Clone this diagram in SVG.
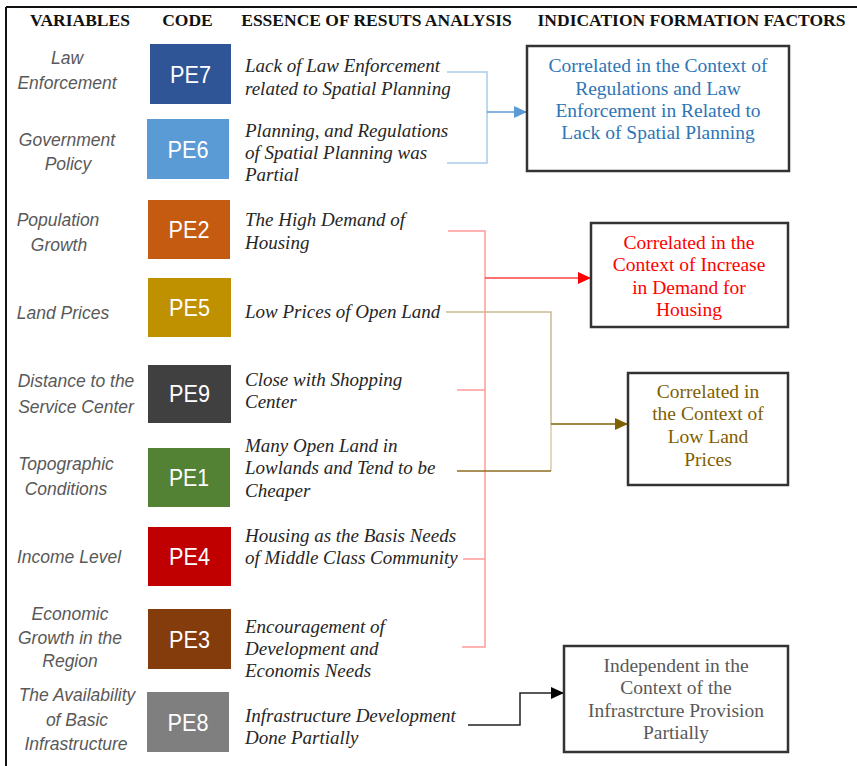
<svg xmlns="http://www.w3.org/2000/svg" width="857" height="766" viewBox="0 0 857 766">
<style>
.hdr{font-family:"Liberation Serif",serif;font-weight:bold;font-size:17.5px;fill:#111111;text-anchor:middle}
.var{font-family:"Liberation Sans",Arial,sans-serif;font-style:italic;font-size:17.5px;fill:#595959;text-anchor:middle}
.code{font-family:"Liberation Sans",Arial,sans-serif;font-size:24px;fill:#ffffff;text-anchor:middle}
.desc{font-family:"Liberation Serif",serif;font-style:italic;font-size:19px;fill:#262626}
.box{fill:#ffffff;stroke:#333333;stroke-width:2.5}
.res{font-family:"Liberation Serif",serif;font-size:19.5px;text-anchor:middle}
.ln{fill:none;stroke-width:1.5}
</style>
<defs>
<marker id="aBlue" markerUnits="userSpaceOnUse" markerWidth="14" markerHeight="12" refX="13" refY="6" orient="auto"><path d="M0,0 L13,6 L0,12 Z" fill="#5B9BD5"/></marker>
<marker id="aRed" markerUnits="userSpaceOnUse" markerWidth="14" markerHeight="12" refX="13" refY="6" orient="auto"><path d="M0,0 L13,6 L0,12 Z" fill="#FF0000"/></marker>
<marker id="aGold" markerUnits="userSpaceOnUse" markerWidth="14" markerHeight="12" refX="13" refY="6" orient="auto"><path d="M0,0 L13,6 L0,12 Z" fill="#7F6000"/></marker>
<marker id="aBlack" markerUnits="userSpaceOnUse" markerWidth="14" markerHeight="12" refX="13" refY="6" orient="auto"><path d="M0,0 L13,6 L0,12 Z" fill="#000000"/></marker>
</defs>
<rect x="0" y="0" width="857" height="766" fill="#ffffff"/>
<g id="frame" fill="none" stroke="#111111" stroke-width="2">
<line x1="6" y1="7" x2="857" y2="7"/>
<line x1="6" y1="7" x2="6" y2="766"/>
</g>
<g id="headers">
<text class="hdr" x="80" y="26">VARIABLES</text>
<text class="hdr" x="187.5" y="26">CODE</text>
<text class="hdr" x="376.5" y="26">ESSENCE OF RESUTS ANALYSIS</text>
<text class="hdr" x="691.5" y="26">INDICATION FORMATION FACTORS</text>
</g>
<g id="connectors">
<path class="ln" stroke="#A9CBEB" d="M447,72 H487 V163 H447"/>
<line class="ln" stroke="#5B9BD5" x1="487" y1="112" x2="527" y2="112" marker-end="url(#aBlue)"/>
<path class="ln" stroke="#FF9A9A" d="M448,231 H485 V647 H462 M457,390 H485 M463,559 H485"/>
<line class="ln" stroke="#FF4040" x1="485" y1="278" x2="591" y2="278" marker-end="url(#aRed)"/>
<path class="ln" stroke="#CBBB92" d="M446,312 H551 V424"/>
<path class="ln" stroke="#D8CBA8" d="M551,424 V471"/>
<path class="ln" stroke="#8C6D1F" d="M457,471 H551"/>
<line class="ln" stroke="#7F6000" x1="551" y1="424" x2="628" y2="424" marker-end="url(#aGold)"/>
<path class="ln" stroke="#222222" d="M468,725 H520 V693 H564" marker-end="url(#aBlack)"/>
</g>
<g id="PE7">
<text class="var" x="67" y="64">Law</text>
<text class="var" x="67" y="89">Enforcement</text>
<rect x="150" y="44" width="81" height="60" fill="#2F5597"/>
<text class="code" x="190.5" y="83" textLength="41" lengthAdjust="spacingAndGlyphs">PE7</text>
<text class="desc" x="245" y="72">Lack of Law Enforcement</text>
<text class="desc" x="245" y="95">related to Spatial Planning</text>
</g>
<g id="PE6">
<text class="var" x="67" y="146">Government</text>
<text class="var" x="68" y="170">Policy</text>
<rect x="147" y="119" width="82" height="60" fill="#5B9BD5"/>
<text class="code" x="188" y="158" textLength="41" lengthAdjust="spacingAndGlyphs">PE6</text>
<text class="desc" x="245" y="137">Planning, and Regulations</text>
<text class="desc" x="245" y="159">of Spatial Planning was</text>
<text class="desc" x="245" y="181">Partial</text>
</g>
<g id="PE2">
<text class="var" x="58" y="226">Population</text>
<text class="var" x="59" y="251">Growth</text>
<rect x="148" y="200" width="82" height="59" fill="#C55A11"/>
<text class="code" x="189" y="238" textLength="41" lengthAdjust="spacingAndGlyphs">PE2</text>
<text class="desc" x="245" y="226">The High Demand of</text>
<text class="desc" x="245" y="249">Housing</text>
</g>
<g id="PE5">
<text class="var" x="63" y="319">Land Prices</text>
<rect x="148" y="278" width="83" height="59" fill="#BF9000"/>
<text class="code" x="189.5" y="316" textLength="41" lengthAdjust="spacingAndGlyphs">PE5</text>
<text class="desc" x="245" y="318">Low Prices of Open Land</text>
</g>
<g id="PE9">
<text class="var" x="76" y="387">Distance to the</text>
<text class="var" x="76" y="413">Service Center</text>
<rect x="148" y="365" width="83" height="58" fill="#404040"/>
<text class="code" x="189.5" y="402" textLength="41" lengthAdjust="spacingAndGlyphs">PE9</text>
<text class="desc" x="245" y="386">Close with Shopping</text>
<text class="desc" x="245" y="408">Center</text>
</g>
<g id="PE1">
<text class="var" x="66" y="470">Topographic</text>
<text class="var" x="66" y="495">Conditions</text>
<rect x="148" y="448" width="82" height="59" fill="#548235"/>
<text class="code" x="189" y="486" textLength="40" lengthAdjust="spacingAndGlyphs">PE1</text>
<text class="desc" x="245" y="452">Many Open Land in</text>
<text class="desc" x="245" y="474">Lowlands and Tend to be</text>
<text class="desc" x="245" y="497">Cheaper</text>
</g>
<g id="PE4">
<text class="var" x="69" y="563">Income Level</text>
<rect x="148" y="527" width="83" height="59" fill="#C00000"/>
<text class="code" x="189.5" y="565" textLength="41" lengthAdjust="spacingAndGlyphs">PE4</text>
<text class="desc" x="245" y="542">Housing as the Basis Needs</text>
<text class="desc" x="245" y="564">of Middle Class Community</text>
</g>
<g id="PE3">
<text class="var" x="70" y="620">Economic</text>
<text class="var" x="70" y="644">Growth in the</text>
<text class="var" x="70" y="667">Region</text>
<rect x="148" y="609" width="83" height="60" fill="#843C0C"/>
<text class="code" x="189.5" y="648" textLength="41" lengthAdjust="spacingAndGlyphs">PE3</text>
<text class="desc" x="245" y="633">Encouragement of</text>
<text class="desc" x="245" y="655">Development and</text>
<text class="desc" x="245" y="677">Economis Needs</text>
</g>
<g id="PE8">
<text class="var" x="77" y="701">The Availability</text>
<text class="var" x="77" y="726">of Basic</text>
<text class="var" x="76" y="750">Infrastructure</text>
<rect x="147" y="692" width="82" height="60" fill="#7F7F7F"/>
<text class="code" x="188" y="731" textLength="41" lengthAdjust="spacingAndGlyphs">PE8</text>
<text class="desc" x="245" y="722">Infrastructure Development</text>
<text class="desc" x="245" y="744">Done Partially</text>
</g>
<g id="F1">
<rect class="box" x="527" y="46" width="262" height="125"/>
<text class="res" fill="#2E75B6" x="658" y="72">Correlated in the Context of</text>
<text class="res" fill="#2E75B6" x="658" y="95">Regulations and Law</text>
<text class="res" fill="#2E75B6" x="658" y="117">Enforcement in Related to</text>
<text class="res" fill="#2E75B6" x="658" y="139">Lack of Spatial Planning</text>
</g>
<g id="F2">
<rect class="box" x="591" y="223" width="197" height="104"/>
<text class="res" fill="#FF0000" x="689" y="249">Correlated in the</text>
<text class="res" fill="#FF0000" x="689" y="271">Context of Increase</text>
<text class="res" fill="#FF0000" x="689" y="294">in Demand for</text>
<text class="res" fill="#FF0000" x="689" y="316">Housing</text>
</g>
<g id="F3">
<rect class="box" x="628" y="373" width="160" height="112"/>
<text class="res" fill="#7F6000" x="708" y="398">Correlated in</text>
<text class="res" fill="#7F6000" x="708" y="420">the Context of</text>
<text class="res" fill="#7F6000" x="708" y="443">Low Land</text>
<text class="res" fill="#7F6000" x="708" y="466">Prices</text>
</g>
<g id="F4">
<rect class="box" x="564" y="646" width="224" height="106"/>
<text class="res" fill="#595959" x="676" y="672">Independent in the</text>
<text class="res" fill="#595959" x="676" y="694">Context of the</text>
<text class="res" fill="#595959" x="676" y="717">Infrastrcture Provision</text>
<text class="res" fill="#595959" x="676" y="739">Partially</text>
</g>
</svg>
